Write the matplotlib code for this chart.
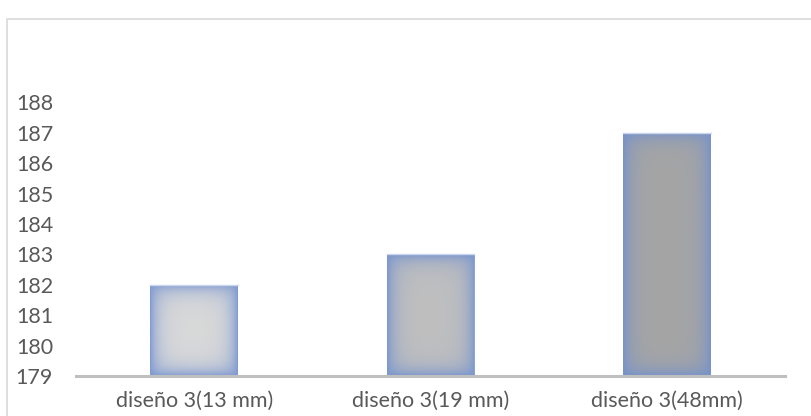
import numpy as np
import matplotlib
matplotlib.use("Agg")
from matplotlib import pyplot as plt
from matplotlib.patches import Rectangle

# valores
categorias = ['diseño 3(13 mm)', 'diseño 3(19 mm)', 'diseño 3(48mm)']
valores = [182, 183, 187]
colores = ['#d9d9d9', '#bfbfbf', '#a5a5a5']
y_ticks = list(range(179, 189))

plt.rcParams['font.family'] = ['Lato', 'DejaVu Sans']

fig = plt.figure(figsize=(8.11, 4.16), dpi=100)
ax = fig.add_axes([76 / 811, 40 / 416, 709 / 811, 304 / 416])

x = np.arange(len(categorias))
bars = ax.bar(x, [v - 179 for v in valores], bottom=179, width=0.372,
              color=colores, edgecolor='none', zorder=2)

ax.set_xlim(-0.5, len(categorias) - 0.5)
ax.set_ylim(179, 189)
ax.set_yticks(y_ticks)
ax.set_yticklabels([str(t) for t in y_ticks])
ax.set_xticks(x)
ax.set_xticklabels(categorias)

for s in ['top', 'right', 'left']:
    ax.spines[s].set_visible(False)
ax.spines['bottom'].set_color('#bfbfbf')
ax.spines['bottom'].set_linewidth(2.2)
ax.spines['bottom'].set_zorder(3)
ax.tick_params(axis='both', length=0, labelsize=15.5, colors='#595959')
ax.tick_params(axis='y', pad=16.5)
ax.tick_params(axis='x', pad=11)

# brillo azul en los bordes de cada barra
fig.canvas.draw()
for b, c in zip(bars, colores):
    x0, y0 = b.get_x(), b.get_y()
    w, h = b.get_width(), b.get_height()
    p0 = ax.transData.transform((x0, y0))
    p1 = ax.transData.transform((x0 + w, y0 + h))
    nx = max(int(abs(p1[0] - p0[0])), 2)
    ny = max(int(abs(p1[1] - p0[1])), 2)
    xx = np.arange(nx) + 0.5
    yy = np.arange(ny) + 0.5
    gx = np.exp(-np.minimum(xx, nx - xx) / 8.0)[None, :]
    gy = np.exp(-np.minimum(yy, ny - yy) / 8.0)[:, None]
    alpha = 0.85 * (1 - (1 - gx) * (1 - gy))
    img = np.zeros((ny, nx, 4))
    img[..., 0] = 0x6f / 255
    img[..., 1] = 0x8f / 255
    img[..., 2] = 0xd0 / 255
    img[..., 3] = alpha
    im = ax.imshow(img, extent=(x0, x0 + w, y0, y0 + h), origin='lower',
                   aspect='auto', zorder=2.5, interpolation='bilinear')
    im.set_clip_path(b)
    ax.plot([x0, x0 + w], [y0 + h, y0 + h], color='#c9d6ee', lw=1, zorder=2.6)

ax.set_xlim(-0.5, len(categorias) - 0.5)
ax.set_ylim(179, 189)

# marco del grafico
fig.patches.append(Rectangle((7 / 811, -0.1), 1.1, 1 - 19 / 416 + 0.1,
                             transform=fig.transFigure, fill=False,
                             edgecolor='#d9d9d9', lw=1.2))

fig.savefig('out.png', dpi=100)
